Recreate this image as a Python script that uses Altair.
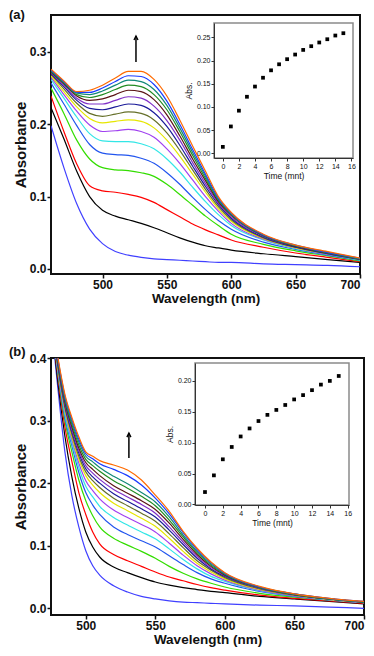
import altair as alt
import pandas as pd

FONT = "Liberation Sans"

CURVES = [f"t{i:02d}" for i in range(16)]
COLORS = ["#4040ff", "#000000", "#ff0000", "#33dd00", "#2255ee", "#33e6e6",
          "#a040f0", "#e6e600", "#66702a", "#1a1a99", "#8030c8", "#5a1414",
          "#228b22", "#118877", "#1a3cff", "#ff6a00"]

# ---------------- panel (a) ----------------
wl_a = [460, 470, 480, 490, 500, 510, 520, 530, 540, 550, 560, 570, 580, 590, 600, 625, 650, 675, 700]
spectra_a = [
    [0.198, 0.140, 0.090, 0.055, 0.035, 0.024, 0.019, 0.016, 0.014, 0.013, 0.012, 0.011, 0.010, 0.009, 0.009, 0.007, 0.006, 0.005, 0.003],
    [0.223, 0.180, 0.135, 0.100, 0.081, 0.073, 0.068, 0.063, 0.057, 0.050, 0.043, 0.037, 0.032, 0.029, 0.026, 0.021, 0.017, 0.013, 0.009],
    [0.239, 0.190, 0.145, 0.115, 0.108, 0.106, 0.103, 0.099, 0.092, 0.082, 0.072, 0.062, 0.054, 0.047, 0.040, 0.030, 0.022, 0.016, 0.010],
    [0.250, 0.215, 0.178, 0.152, 0.140, 0.137, 0.136, 0.133, 0.128, 0.117, 0.103, 0.088, 0.073, 0.060, 0.048, 0.034, 0.025, 0.018, 0.011],
    [0.257, 0.228, 0.198, 0.172, 0.160, 0.158, 0.157, 0.153, 0.146, 0.133, 0.117, 0.099, 0.082, 0.067, 0.055, 0.037, 0.027, 0.019, 0.012],
    [0.262, 0.236, 0.210, 0.187, 0.177, 0.176, 0.176, 0.173, 0.166, 0.152, 0.134, 0.113, 0.093, 0.075, 0.060, 0.040, 0.028, 0.020, 0.012],
    [0.265, 0.241, 0.218, 0.199, 0.190, 0.191, 0.193, 0.190, 0.182, 0.166, 0.146, 0.123, 0.100, 0.080, 0.063, 0.041, 0.029, 0.020, 0.013],
    [0.267, 0.245, 0.224, 0.208, 0.202, 0.204, 0.206, 0.204, 0.195, 0.178, 0.156, 0.131, 0.106, 0.083, 0.066, 0.042, 0.029, 0.021, 0.013],
    [0.269, 0.249, 0.229, 0.215, 0.211, 0.214, 0.217, 0.215, 0.206, 0.188, 0.164, 0.137, 0.110, 0.086, 0.068, 0.043, 0.030, 0.021, 0.013],
    [0.270, 0.252, 0.233, 0.222, 0.220, 0.224, 0.228, 0.226, 0.216, 0.197, 0.171, 0.142, 0.114, 0.089, 0.070, 0.044, 0.030, 0.021, 0.013],
    [0.271, 0.254, 0.236, 0.228, 0.228, 0.233, 0.238, 0.236, 0.225, 0.205, 0.178, 0.147, 0.118, 0.091, 0.072, 0.045, 0.031, 0.022, 0.014],
    [0.272, 0.256, 0.239, 0.233, 0.235, 0.241, 0.247, 0.245, 0.234, 0.213, 0.184, 0.152, 0.122, 0.093, 0.074, 0.046, 0.031, 0.022, 0.014],
    [0.273, 0.257, 0.241, 0.237, 0.241, 0.248, 0.254, 0.252, 0.241, 0.220, 0.190, 0.157, 0.125, 0.095, 0.075, 0.046, 0.032, 0.022, 0.014],
    [0.274, 0.258, 0.243, 0.241, 0.246, 0.254, 0.261, 0.259, 0.248, 0.226, 0.195, 0.161, 0.128, 0.096, 0.076, 0.047, 0.032, 0.023, 0.014],
    [0.275, 0.259, 0.244, 0.244, 0.250, 0.259, 0.267, 0.266, 0.255, 0.232, 0.200, 0.165, 0.131, 0.098, 0.077, 0.047, 0.033, 0.023, 0.015],
    [0.276, 0.260, 0.245, 0.247, 0.254, 0.264, 0.273, 0.273, 0.262, 0.239, 0.206, 0.170, 0.135, 0.100, 0.078, 0.048, 0.033, 0.024, 0.015],
]
time_a = [0, 1, 2, 3, 4, 5, 6, 7, 8, 9, 10, 11, 12, 13, 14, 15]
kin_a = [0.014, 0.058, 0.092, 0.122, 0.144, 0.163, 0.179, 0.192, 0.203, 0.213, 0.223, 0.231, 0.239, 0.246, 0.254, 0.259]

# ---------------- panel (b) ----------------
wl_b = [475, 480, 485, 490, 495, 500, 505, 510, 520, 530, 540, 550, 560, 570, 580, 590, 600, 625, 650, 675, 700]
spectra_b = [
    [0.46, 0.350, 0.250, 0.180, 0.130, 0.092, 0.068, 0.053, 0.036, 0.026, 0.019, 0.015, 0.012, 0.010, 0.009, 0.008, 0.007, 0.005, 0.004, 0.002, 0.000],
    [0.47, 0.360, 0.275, 0.210, 0.160, 0.122, 0.098, 0.082, 0.066, 0.057, 0.049, 0.042, 0.037, 0.033, 0.030, 0.027, 0.025, 0.019, 0.015, 0.011, 0.007],
    [0.47, 0.370, 0.290, 0.235, 0.185, 0.150, 0.122, 0.103, 0.086, 0.076, 0.067, 0.058, 0.050, 0.044, 0.038, 0.033, 0.029, 0.021, 0.016, 0.012, 0.008],
    [0.47, 0.375, 0.300, 0.250, 0.205, 0.172, 0.148, 0.130, 0.112, 0.101, 0.091, 0.080, 0.067, 0.056, 0.047, 0.040, 0.034, 0.024, 0.018, 0.013, 0.009],
    [0.47, 0.378, 0.305, 0.260, 0.217, 0.185, 0.165, 0.150, 0.130, 0.118, 0.108, 0.098, 0.084, 0.070, 0.057, 0.047, 0.040, 0.027, 0.019, 0.013, 0.009],
    [0.47, 0.380, 0.310, 0.265, 0.225, 0.195, 0.178, 0.163, 0.145, 0.133, 0.122, 0.111, 0.095, 0.078, 0.063, 0.051, 0.043, 0.028, 0.020, 0.014, 0.009],
    [0.47, 0.382, 0.315, 0.270, 0.232, 0.204, 0.188, 0.175, 0.157, 0.145, 0.134, 0.122, 0.104, 0.085, 0.068, 0.055, 0.045, 0.029, 0.020, 0.014, 0.009],
    [0.47, 0.384, 0.318, 0.274, 0.238, 0.212, 0.197, 0.185, 0.168, 0.156, 0.144, 0.131, 0.112, 0.091, 0.072, 0.058, 0.047, 0.030, 0.021, 0.014, 0.010],
    [0.47, 0.386, 0.321, 0.278, 0.243, 0.218, 0.204, 0.193, 0.176, 0.164, 0.152, 0.139, 0.119, 0.097, 0.076, 0.061, 0.049, 0.031, 0.021, 0.015, 0.010],
    [0.47, 0.388, 0.324, 0.282, 0.248, 0.223, 0.210, 0.200, 0.183, 0.171, 0.159, 0.146, 0.125, 0.102, 0.080, 0.063, 0.051, 0.032, 0.022, 0.015, 0.010],
    [0.47, 0.390, 0.327, 0.286, 0.252, 0.228, 0.216, 0.206, 0.190, 0.178, 0.166, 0.152, 0.130, 0.106, 0.083, 0.065, 0.052, 0.032, 0.022, 0.015, 0.010],
    [0.47, 0.392, 0.330, 0.290, 0.256, 0.233, 0.222, 0.212, 0.196, 0.184, 0.172, 0.158, 0.136, 0.110, 0.086, 0.067, 0.053, 0.033, 0.022, 0.015, 0.010],
    [0.47, 0.394, 0.333, 0.294, 0.261, 0.238, 0.228, 0.219, 0.204, 0.192, 0.179, 0.164, 0.141, 0.114, 0.089, 0.069, 0.054, 0.033, 0.022, 0.015, 0.010],
    [0.47, 0.396, 0.336, 0.298, 0.266, 0.243, 0.234, 0.225, 0.211, 0.199, 0.185, 0.170, 0.146, 0.117, 0.091, 0.071, 0.055, 0.034, 0.023, 0.015, 0.010],
    [0.47, 0.398, 0.339, 0.302, 0.270, 0.247, 0.239, 0.231, 0.222, 0.212, 0.197, 0.176, 0.151, 0.121, 0.094, 0.073, 0.056, 0.034, 0.023, 0.016, 0.011],
    [0.47, 0.400, 0.342, 0.305, 0.274, 0.250, 0.243, 0.236, 0.229, 0.221, 0.205, 0.181, 0.155, 0.123, 0.096, 0.074, 0.057, 0.035, 0.023, 0.016, 0.011],
]
time_b = [0, 1, 2, 3, 4, 5, 6, 7, 8, 9, 10, 11, 12, 13, 14, 15]
kin_b = [0.020, 0.047, 0.073, 0.093, 0.110, 0.123, 0.135, 0.145, 0.153, 0.161, 0.170, 0.177, 0.185, 0.194, 0.200, 0.208]

wl_ticks = [500, 550, 600, 650, 700]


def panel(wl, spectra, xdom, ydom, yticks, W, H, arrow_x, arrow_y, times, kin,
          ixdom, iydom, ixr, iyr, iyticks, label, title_dx, title_offset):
    rows = []
    for name, s in zip(CURVES, spectra):
        for w, v in zip(wl, s):
            rows.append({"wl": w, "absb": v, "curve": name})
    df = pd.DataFrame(rows)

    xs = alt.Scale(domain=xdom, nice=False, zero=False)
    ys = alt.Scale(domain=ydom, nice=False, zero=False)
    xax = alt.Axis(values=wl_ticks, format="d", title="Wavelength (nm)",
                   labelFont=FONT, labelFontSize=12, labelFontWeight="bold", labelColor="#111",
                   titleFont=FONT, titleFontSize=13.5, titleFontWeight="bold", titleColor="#111",
                   titlePadding=1, tickSize=4, tickWidth=1.5, tickColor="#111",
                   labelPadding=1, domain=False, grid=False)
    yax = alt.Axis(values=yticks, format=".1f", title="Absorbance",
                   labelFont=FONT, labelFontSize=12, labelFontWeight="bold", labelColor="#111",
                   titleFont=FONT, titleFontSize=15, titleFontWeight="bold", titleColor="#111",
                   titlePadding=1, tickSize=4, tickWidth=1.5, tickColor="#111",
                   labelPadding=1, domain=False, grid=False)

    lines = alt.Chart(df).mark_line(clip=True, strokeWidth=1.2, interpolate="monotone").encode(
        x=alt.X("wl:Q", scale=xs, axis=xax),
        y=alt.Y("absb:Q", scale=ys, axis=yax),
        color=alt.Color("curve:N", scale=alt.Scale(domain=CURVES, range=COLORS), legend=None),
    )
    adf = pd.DataFrame({"wl": [arrow_x], "absb": [arrow_y[0]], "top": [arrow_y[1]]})
    shaft = alt.Chart(adf).mark_rule(color="black", strokeWidth=1.5).encode(
        x=alt.X("wl:Q", scale=xs, axis=xax),
        y=alt.Y("absb:Q", scale=ys, axis=yax), y2="top:Q")
    head = alt.Chart(adf).mark_point(shape="M-1,2L0,0L1,2", size=16, filled=False,
                                     color="black", strokeWidth=1.4, opacity=1).encode(
        x=alt.X("wl:Q", scale=xs, axis=xax),
        y=alt.Y("top:Q", scale=ys, axis=yax))
    main = alt.layer(lines, shaft, head)

    ixs = alt.Scale(domain=ixdom, range=ixr, nice=False, zero=False)
    iys = alt.Scale(domain=iydom, range=iyr, nice=False, zero=False)
    ixax = alt.Axis(values=list(range(0, 17, 2)), format="d", title="Time (mnt)", orient="bottom",
                    offset=-(H - iyr[0]), zindex=1,
                    labelFont=FONT, labelFontSize=7, labelColor="#111",
                    titleFont=FONT, titleFontSize=8.5, titleFontWeight="normal", titleColor="#111",
                    titlePadding=2, tickSize=3, tickColor="#333", labelPadding=1,
                    domainColor="#333", domainWidth=1, grid=False)
    iyax = alt.Axis(values=iyticks, format=".2f", title="Abs.", orient="left",
                    offset=-ixr[0], zindex=1,
                    labelFont=FONT, labelFontSize=7, labelColor="#111",
                    titleFont=FONT, titleFontSize=8.5, titleFontWeight="normal", titleColor="#111",
                    titlePadding=3, tickSize=3, tickColor="#333", labelPadding=1,
                    domainColor="#333", domainWidth=1, grid=False)
    fdf = pd.DataFrame({"t": [ixdom[0]], "t2": [ixdom[1]], "v": [iydom[0]], "v2": [iydom[1]]})
    frame = alt.Chart(fdf).mark_rect(fill="white", stroke="#8a8a8a", strokeWidth=1.5).encode(
        x=alt.X("t:Q", scale=ixs, axis=ixax), x2="t2:Q",
        y=alt.Y("v:Q", scale=iys, axis=iyax), y2="v2:Q")
    kdf = pd.DataFrame({"t": times, "v": kin})
    pts = alt.Chart(kdf).mark_square(size=14, color="black", opacity=1).encode(
        x=alt.X("t:Q", scale=ixs, axis=ixax),
        y=alt.Y("v:Q", scale=iys, axis=iyax))
    inset = alt.layer(frame, pts)

    return alt.layer(main, inset).resolve_scale(x="independent", y="independent").properties(
        width=W, height=H,
        title=alt.TitleParams(label, anchor="start", frame="group", dx=title_dx, offset=title_offset,
                              font=FONT, fontSize=13, fontWeight="bold", color="#111"))


pa = panel(wl_a, spectra_a, [460, 700], [-0.007, 0.351], [0.0, 0.1, 0.2, 0.3], 309, 259,
           526, (0.286, 0.322), time_a, kin_a,
           [-1.1, 16.2], [-0.01, 0.281], [163, 302], [143, 8],
           [0.0, 0.05, 0.10, 0.15, 0.20, 0.25], "(a)", -42, -7)
pb = panel(wl_b, spectra_b, [475, 700], [-0.0107, 0.4], [0.0, 0.1, 0.2, 0.3, 0.4], 313, 257,
           531, (0.24, 0.28), time_b, kin_b,
           [-1.12, 16.15], [-0.001, 0.229], [144, 298], [147, 5],
           [0.0, 0.05, 0.10, 0.15, 0.20], "(b)", -42, -7)

chart = alt.vconcat(pa, pb, spacing=39).properties(
    padding={"left": 0, "top": 0, "right": 0, "bottom": 0}
).configure_view(stroke="#111", strokeWidth=2)

chart.save("out.html", embed_options={"renderer": "svg", "actions": False})
